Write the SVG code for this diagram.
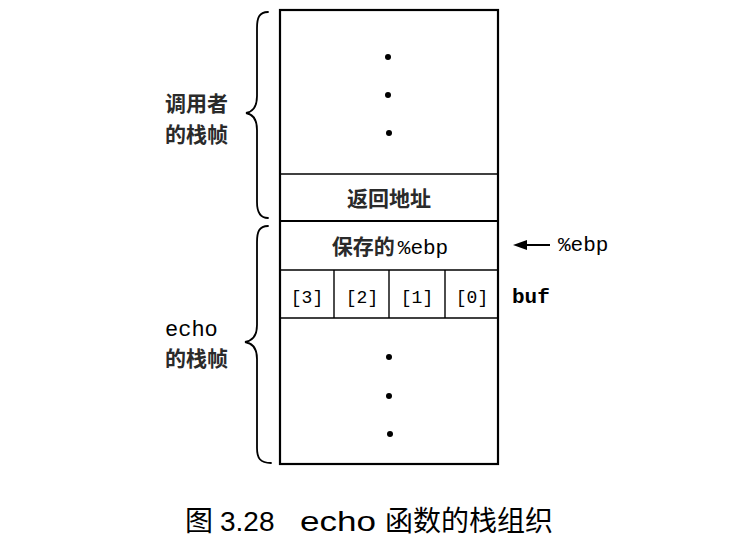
<svg xmlns="http://www.w3.org/2000/svg" width="743" height="540" viewBox="0 0 743 540">
<style>
.box{fill:none;stroke:#000;stroke-width:2.2}
.thin{stroke:#000;stroke-width:1.4;fill:none}
.brace{fill:none;stroke:#000;stroke-width:1.8;stroke-linecap:round}
.cjk{font-family:"Noto Sans CJK SC","Noto Sans",sans-serif;font-size:21px;font-weight:bold;fill:#2a2a2a}
.mono{font-family:"Liberation Mono","DejaVu Sans Mono",monospace;font-size:18px;fill:#000}
.big{font-size:21px}
.cap{font-family:"Liberation Sans","Noto Sans CJK SC",sans-serif;font-size:28px;fill:#000}
.capc{font-family:"Noto Sans CJK SC",sans-serif;font-size:28px;fill:#000}
.dot{fill:#000}
</style>
<rect width="743" height="540" fill="#fff"/>
<g id="stack">
<rect class="box" x="280" y="10" width="218" height="454"/>
<line class="thin" x1="280" y1="174" x2="498" y2="174"/>
<line class="box" x1="280" y1="221" x2="498" y2="221"/>
<line class="thin" x1="280" y1="270" x2="498" y2="270"/>
<line class="thin" x1="280" y1="318" x2="498" y2="318"/>
<line class="thin" x1="334" y1="270" x2="334" y2="318"/>
<line class="thin" x1="389" y1="270" x2="389" y2="318"/>
<line class="thin" x1="445" y1="270" x2="445" y2="318"/>
</g>
<g id="caller-dots">
<circle class="dot" cx="388" cy="57" r="3"/>
<circle class="dot" cx="388" cy="95" r="3"/>
<circle class="dot" cx="389" cy="133" r="3"/>
</g>
<g id="echo-dots">
<circle class="dot" cx="389" cy="357" r="3"/>
<circle class="dot" cx="389" cy="396" r="3"/>
<circle class="dot" cx="390" cy="434" r="3"/>
</g>
<g id="retaddr"><text class="cjk" x="389" y="206" text-anchor="middle">返回地址</text></g>
<g id="savedebp"><text x="390" y="254" text-anchor="middle"><tspan class="cjk">保存的</tspan><tspan class="mono big" dx="3">%ebp</tspan></text></g>
<g id="buf">
<text class="mono" x="307" y="303" text-anchor="middle">[3]</text>
<text class="mono" x="362" y="303" text-anchor="middle">[2]</text>
<text class="mono" x="417" y="303" text-anchor="middle">[1]</text>
<text class="mono" x="472" y="303" text-anchor="middle">[0]</text>
<text class="mono big" x="512" y="303" font-weight="bold">buf</text>
</g>
<g id="connectors">
<line x1="550" y1="245" x2="524" y2="245" stroke="#000" stroke-width="2"/>
<polygon points="513,245 527,240 527,250" fill="#000"/>
</g>
<g id="ebp-label"><text class="mono big" x="558" y="251">%ebp</text></g>
<g id="caller-brace">
<path class="brace" d="M268,12 C259,12 257,18 257,28 L257,96 C257,108 252,112 246,113 C252,114 257,118 257,130 L257,202 C257,212 260,218 268,218"/>
<text class="cjk" x="165" y="111">调用者</text>
<text class="cjk" x="165" y="142">的栈帧</text>
</g>
<g id="echo-brace">
<path class="brace" d="M268,226 C259,226 257,232 257,242 L257,325 C257,337 252,341 245,342 C252,343 257,347 257,359 L257,448 C257,458 260,463 271,463"/>
<text class="mono" x="165" y="336" style="font-size:22px">echo</text>
<text class="cjk" x="165" y="366">的栈帧</text>
</g>
<g id="caption">
<text class="capc" x="185" y="531">图</text>
<text class="cap" x="220" y="531">3.28</text>
<text class="cap" x="300" y="531" textLength="76" lengthAdjust="spacingAndGlyphs">echo</text>
<text class="capc" x="385" y="531">函数的栈组织</text>
</g>
</svg>
